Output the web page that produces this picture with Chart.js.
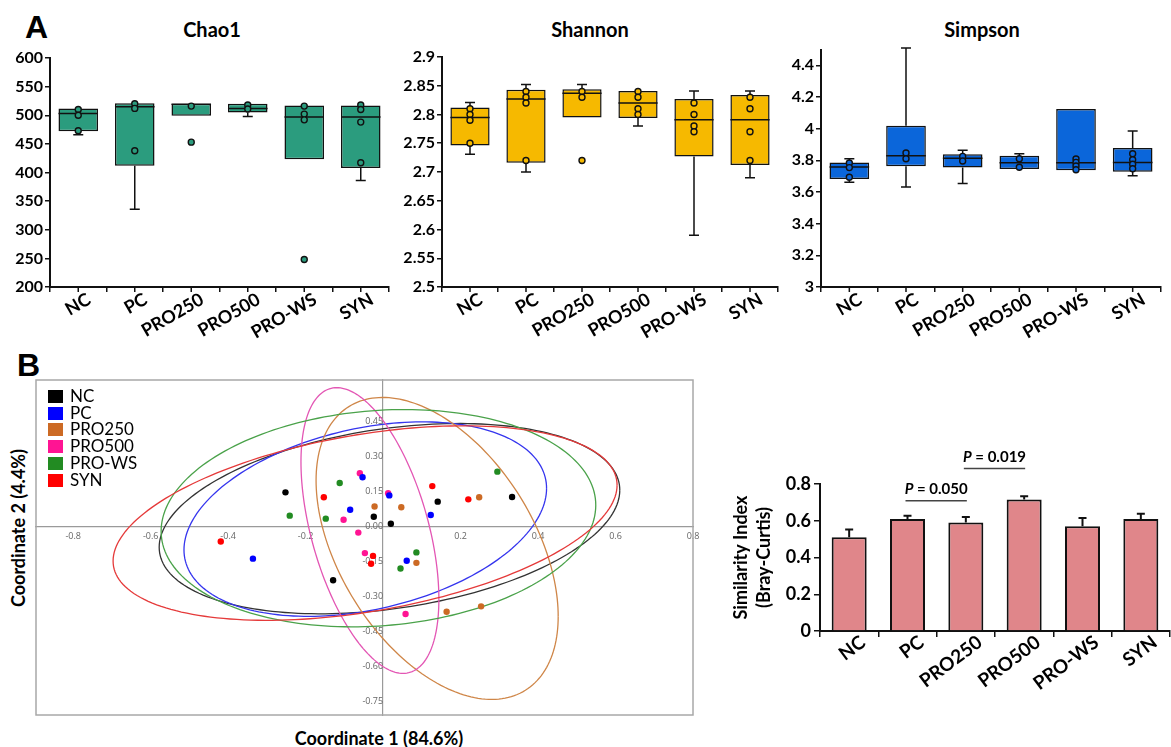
<!DOCTYPE html>
<html>
<head>
<meta charset="utf-8">
<title>Diversity</title>
<script src="https://cdn.jsdelivr.net/npm/chart.js@4.4.1/dist/chart.umd.min.js"></script>
<style>
	body { margin: 0; width: 1171px; height: 747px; overflow: hidden; position: relative; background: #fff; font-family: Lato, sans-serif; }
	canvas { position: absolute; }
	.txt { position: absolute; font-weight: bold; color: #000; white-space: nowrap; }
	.ttl { position: absolute; top: 29px; font: bold 20px Lato, sans-serif; color: #000; transform: translate(-50%, -50%); }
	.legend { position: absolute; left: 48px; top: 388px; font: 17px Lato, sans-serif; color: #000; line-height: 16.7px; }
	.legend span { display: inline-block; width: 15px; height: 13px; margin-right: 7px; vertical-align: -1px; }
</style>
</head>
<body>
<div class="txt" style="left:25px;top:9px;font:bold 32px 'Liberation Sans'">A</div>
<div class="txt" style="left:17px;top:347px;font:bold 32px 'Liberation Sans'">B</div>
<div class="ttl" style="left:212px">Chao1</div>
<div class="ttl" style="left:590px">Shannon</div>
<div class="ttl" style="left:982px">Simpson</div>
<canvas id="chao" width="400" height="360" style="left:0;top:0"></canvas>
<canvas id="shannon" width="396" height="360" style="left:392px;top:0"></canvas>
<canvas id="simpson" width="390" height="360" style="left:781px;top:0"></canvas>
<canvas id="pcoa" width="675" height="345" style="left:30px;top:375px"></canvas>
<canvas id="similar" width="451" height="290" style="left:720px;top:430px"></canvas>
<div class="legend" id="legend"></div>
<div class="txt" style="left:18px;top:528px;font-size:18px;transform:translate(-50%,-50%) rotate(-90deg)">Coordinate 2 (4.4%)</div>
<div class="txt" style="left:379px;top:738px;font-size:18px;transform:translate(-50%,-50%)">Coordinate 1 (84.6%)</div>
<script>
const groups = ["NC", "PC", "PRO250", "PRO500", "PRO-WS", "SYN"];

// Chao1 boxes
const chaoQ1 = [472, 412, 499, 505, 423, 408];
const chaoQ3 = [512, 521, 520, 520, 517, 517];
const chaoMed = [503, 515, 519, 512, 497, 497];
const chaoLow = [466, 336, null, 498, null, 386];
const chaoHigh = [null, null, null, null, null, null];
const chaoPts = [[510, 500, 473], [520, 512, 438], [516, 453], [518, 511], [516, 502, 492, 248], [518, 510, 488, 417]];

// Shannon boxes
const shanQ1 = [2.746, 2.716, 2.795, 2.794, 2.727, 2.712];
const shanQ3 = [2.812, 2.843, 2.844, 2.841, 2.827, 2.834];
const shanMed = [2.795, 2.827, 2.837, 2.82, 2.791, 2.791];
const shanLow = [2.731, 2.70, null, 2.78, 2.59, 2.69];
const shanHigh = [2.821, 2.852, 2.852, null, 2.841, 2.841];
const shanPts = [[2.81, 2.80, 2.79, 2.75], [2.84, 2.83, 2.82, 2.72], [2.84, 2.83, 2.72], [2.84, 2.83, 2.81, 2.80], [2.82, 2.80, 2.78, 2.77], [2.83, 2.81, 2.77, 2.72]];

// Simpson boxes
const simpQ1 = [3.682, 3.762, 3.754, 3.745, 3.737, 3.728];
const simpQ3 = [3.787, 4.019, 3.838, 3.829, 4.124, 3.878];
const simpMed = [3.758, 3.829, 3.813, 3.785, 3.785, 3.787];
const simpLow = [3.661, 3.632, 3.653, null, null, 3.703];
const simpHigh = [3.81, 4.51, 3.863, 3.842, null, 3.985];
const simpPts = [[3.783, 3.754, 3.693], [3.846, 3.81], [3.825, 3.796], [3.81, 3.756], [3.808, 3.787, 3.764, 3.741], [3.842, 3.804, 3.775, 3.747]];

// PCoA coordinates [x, y]
const ncPts = [[-0.252, 0.147], [-0.129, -0.231], [-0.024, 0.042], [0.020, 0.012], [0.141, 0.107], [0.333, 0.127]];
const pcPts = [[-0.053, 0.212], [-0.085, 0.072], [-0.336, -0.138], [0.016, 0.134], [0.123, 0.050], [0.061, -0.147]];
const pro250Pts = [[-0.022, 0.086], [0.047, 0.083], [0.248, 0.126], [0.086, -0.156], [0.164, -0.366], [0.253, -0.343]];
const pro500Pts = [[-0.060, 0.229], [-0.102, 0.029], [-0.064, -0.026], [-0.047, -0.114], [0.013, 0.143], [0.058, -0.376]];
const prowsPts = [[-0.112, 0.187], [-0.241, 0.047], [-0.148, 0.034], [0.295, 0.236], [0.086, -0.111], [0.045, -0.180]];
const synPts = [[-0.153, 0.126], [-0.419, -0.064], [-0.026, -0.126], [-0.031, -0.160], [0.127, 0.174], [0.220, 0.117]];

// confidence ellipses: x = cx + a*cos(t), y = cy + b*cos(t + acos(c))
const ellCx = [0.0165, -0.046, 0.1395, -0.034, -0.012, -0.0465];
const ellCy = [0.034, 0.032, -0.094, -0.017, 0.036, 0.015];
const ellA = [0.5945, 0.468, 0.3125, 0.178, 0.561, 0.6505];
const ellB = [0.409, 0.418, 0.649, 0.614, 0.467, 0.418];
const ellC = [0.30, 0.316, -0.45, -0.48, 0.12, 0.39];

// similarity index
const simMean = [0.51, 0.61, 0.59, 0.715, 0.57, 0.61];
const simErr = [0.043, 0.017, 0.03, 0.018, 0.045, 0.028];
const sigFrom = [1, 2];
const sigTo = [2, 3];
const sigY = [0.709, 0.884];
const sigText = [" = 0.050", " = 0.019"];

const dotColors = ["#000000", "#0000ff", "#cc6a24", "#ff1493", "#228b22", "#ff0000"];
const ellColors = ["#333333", "#3535ee", "#cf8648", "#e356b4", "#4aa24a", "#e53a3a"];

Chart.defaults.font.family = "Lato";
Chart.defaults.animation = false;
Chart.defaults.events = [];
Chart.defaults.plugins.legend.display = false;
Chart.defaults.plugins.tooltip.enabled = false;

const boldFont = (s) => ({ family: "Lato", size: s, weight: "bold" });
const shortNum = (v) => String(+Number(v).toFixed(3));

// slanted category names under the x axis
function labelPlugin(angle, dx, dy, size) {
	return {
		id: "slantLabels",
		afterDraw(chart) {
			let ctx = chart.ctx, x = chart.scales.x;
			ctx.save();
			ctx.font = "bold " + size + "px Lato";
			ctx.fillStyle = "#000";
			ctx.textAlign = "right";
			ctx.textBaseline = "middle";
			groups.forEach((g, i) => {
				ctx.save();
				ctx.translate(x.getPixelForValue(i) + dx, x.top + dy);
				ctx.rotate(-angle * Math.PI / 180);
				ctx.fillText(g, 0, 0);
				ctx.restore();
			});
			ctx.restore();
		}
	};
}

function boxPlugin(q1, q3, med, low, high) {
	return {
		id: "boxExtras",
		beforeDatasetDraw(chart, args) {
			if (args.index !== 0) return;
			let ctx = chart.ctx;
			let x = chart.scales.x, y = chart.scales.y;
			let bars = chart.getDatasetMeta(1).data;
			ctx.save();
			ctx.strokeStyle = "#111";
			ctx.lineWidth = 1.5;
			ctx.beginPath();
			for (let i = 0; i < groups.length; i++) {
				let cx = x.getPixelForValue(i);
				let hw = bars[i].width / 2;
				let ym = y.getPixelForValue(med[i]);
				ctx.moveTo(cx - hw, ym); ctx.lineTo(cx + hw, ym);
				if (low[i] != null) {
					let yl = y.getPixelForValue(low[i]);
					ctx.moveTo(cx, y.getPixelForValue(q1[i])); ctx.lineTo(cx, yl);
					ctx.moveTo(cx - 5, yl); ctx.lineTo(cx + 5, yl);
				}
				if (high[i] != null) {
					let yh = y.getPixelForValue(high[i]);
					ctx.moveTo(cx, y.getPixelForValue(q3[i])); ctx.lineTo(cx, yh);
					ctx.moveTo(cx - 5, yh); ctx.lineTo(cx + 5, yh);
				}
				// tick under each box
				ctx.moveTo(cx, x.top); ctx.lineTo(cx, x.top + 5);
			}
			ctx.stroke();
			ctx.restore();
		}
	};
}

function boxChart(id, color, q1, q3, med, low, high, pts, min, max, step, axisW, padTop, padRight) {
	let points = [];
	pts.forEach((arr, i) => arr.forEach(v => points.push({ x: groups[i], y: v })));
	return new Chart(document.getElementById(id), {
		type: "bar",
		data: {
			labels: groups,
			datasets: [{
				type: "line",
				data: points,
				showLine: false,
				pointRadius: 3,
				pointBackgroundColor: color,
				pointBorderColor: "#111",
				pointBorderWidth: 1.4
			}, {
				data: groups.map((g, i) => [q1[i], q3[i]]),
				backgroundColor: color,
				borderColor: "#111",
				borderWidth: 1.5,
				borderSkipped: false,
				barPercentage: 0.7,
				categoryPercentage: 1
			}]
		},
		options: {
			responsive: false,
			layout: { padding: { top: padTop, right: padRight } },
			scales: {
				x: {
					grid: { drawOnChartArea: false, offset: true, tickLength: 5, color: "#111", lineWidth: 1.5 },
					border: { color: "#111", width: 2 },
					ticks: { display: false },
					afterFit: (s) => { s.height = 73; }
				},
				y: {
					min: min, max: max,
					grid: { drawOnChartArea: false, tickLength: 5, color: "#111", lineWidth: 1.5 },
					border: { color: "#111", width: 2 },
					ticks: { stepSize: step, includeBounds: false, color: "#000", font: boldFont(16), padding: 2, callback: shortNum },
					afterFit: (s) => { s.width = axisW; }
				}
			}
		},
		plugins: [boxPlugin(q1, q3, med, low, high), labelPlugin(30, 11, 11, 18)]
	});
}

boxChart("chao", "#2b9c7e", chaoQ1, chaoQ3, chaoMed, chaoLow, chaoHigh, chaoPts, 200, 600, 50, 50, 58, 11);
boxChart("shannon", "#f6b900", shanQ1, shanQ3, shanMed, shanLow, shanHigh, shanPts, 2.5, 2.9, 0.05, 50, 57, 10);
boxChart("simpson", "#0b66da", simpQ1, simpQ3, simpMed, simpLow, simpHigh, simpPts, 3, 4.5, 0.2, 40, 49.5, 10);

// PCoA
let pcoaSets = [ncPts, pcPts, pro250Pts, pro500Pts, prowsPts, synPts];
let zeroPad = (s) => { s.paddingLeft = 0; s.paddingRight = 0; s.paddingTop = 0; s.paddingBottom = 0; };

let ellipsePlugin = {
	id: "ellipses",
	beforeDatasetsDraw(chart) {
		let ctx = chart.ctx, area = chart.chartArea;
		let x = chart.scales.x, y = chart.scales.y;
		ctx.save();
		ctx.beginPath();
		ctx.rect(area.left, area.top, area.right - area.left, area.bottom - area.top);
		ctx.clip();
		ctx.lineWidth = 1.3;
		for (let i = 0; i < groups.length; i++) {
			let ph = Math.acos(ellC[i]);
			ctx.strokeStyle = ellColors[i];
			ctx.beginPath();
			for (let k = 0; k <= 200; k++) {
				let t = k / 200 * Math.PI * 2;
				let px = x.getPixelForValue(ellCx[i] + ellA[i] * Math.cos(t));
				let py = y.getPixelForValue(ellCy[i] + ellB[i] * Math.cos(t + ph));
				if (k == 0) ctx.moveTo(px, py); else ctx.lineTo(px, py);
			}
			ctx.stroke();
		}
		ctx.restore();
	},
	afterDraw(chart) {
		let ctx = chart.ctx, area = chart.chartArea;
		ctx.save();
		ctx.strokeStyle = "#a8a8a8";
		ctx.lineWidth = 1.5;
		ctx.strokeRect(area.left, area.top, area.right - area.left, area.bottom - area.top);
		ctx.restore();
	}
};

new Chart(document.getElementById("pcoa"), {
	type: "scatter",
	data: {
		datasets: groups.map((g, i) => ({
			label: g,
			data: pcoaSets[i].map(p => ({ x: p[0], y: p[1] })),
			backgroundColor: dotColors[i],
			borderWidth: 0,
			pointRadius: 3.2
		}))
	},
	options: {
		responsive: false,
		layout: { padding: { left: 6, top: 5, right: 12, bottom: 5 } },
		scales: {
			x: {
				type: "linear", min: -0.896, max: 0.8, position: { y: 0 },
				grid: { display: false, drawTicks: false },
				border: { color: "#9a9a9a", width: 1.2 },
				ticks: { stepSize: 0.2, includeBounds: false, autoSkip: false, maxRotation: 0, padding: 4, color: "#666", font: { family: "Open Sans", size: 9 },
					callback: (v) => Math.abs(v) < 1e-9 ? "" : Number(v).toFixed(1) },
				afterFit: zeroPad
			},
			y: {
				type: "linear", min: -0.81, max: 0.63, position: { x: 0 },
				grid: { display: false, drawTicks: false },
				border: { color: "#9a9a9a", width: 1.2 },
				ticks: { stepSize: 0.15, includeBounds: false, autoSkip: false, padding: 3, color: "#666", font: { family: "Open Sans", size: 9 },
					callback: (v) => v > 0.5 ? "" : Number(v).toFixed(2) },
				afterFit: zeroPad
			}
		}
	},
	plugins: [ellipsePlugin]
});

// legend of the PCoA
let legend = document.getElementById("legend");
groups.forEach((g, i) => {
	legend.innerHTML += `<div><span style="background:${dotColors[i]}"></span>${g}</div>`;
});

// similarity bars
let errorPlugin = {
	id: "errorBars",
	afterDatasetsDraw(chart) {
		let ctx = chart.ctx;
		let x = chart.scales.x, y = chart.scales.y;
		ctx.save();
		ctx.strokeStyle = "#111";
		ctx.lineWidth = 2;
		ctx.beginPath();
		simMean.forEach((m, i) => {
			let cx = x.getPixelForValue(i);
			let y1 = y.getPixelForValue(m + simErr[i]);
			ctx.moveTo(cx, y.getPixelForValue(m)); ctx.lineTo(cx, y1);
			ctx.moveTo(cx - 4, y1); ctx.lineTo(cx + 4, y1);
		});
		ctx.stroke();
		// significance lines
		for (let k = 0; k < sigY.length; k++) {
			let x0 = x.getPixelForValue(sigFrom[k]) - 2;
			let x1 = x.getPixelForValue(sigTo[k]) + 1;
			let yy = y.getPixelForValue(sigY[k]);
			ctx.strokeStyle = "#444";
			ctx.lineWidth = 1.5;
			ctx.beginPath(); ctx.moveTo(x0, yy); ctx.lineTo(x1, yy); ctx.stroke();
			ctx.fillStyle = "#000";
			ctx.textBaseline = "alphabetic";
			ctx.textAlign = "left";
			ctx.font = "italic bold 15px Lato";
			let wP = ctx.measureText("P").width;
			ctx.font = "bold 15px Lato";
			let wR = ctx.measureText(sigText[k]).width;
			let sx = (x0 + x1) / 2 - (wP + wR) / 2;
			ctx.font = "italic bold 15px Lato";
			ctx.fillText("P", sx, yy - 7);
			ctx.font = "bold 15px Lato";
			ctx.fillText(sigText[k], sx + wP, yy - 7);
		}
		ctx.restore();
	}
};

new Chart(document.getElementById("similar"), {
	type: "bar",
	data: {
		labels: groups,
		datasets: [{
			data: simMean,
			backgroundColor: "#e0868a",
			borderColor: "#111",
			borderWidth: 2,
			barPercentage: 0.6,
			categoryPercentage: 1
		}]
	},
	options: {
		responsive: false,
		layout: { padding: { top: 54, right: 1 } },
		scales: {
			x: {
				grid: { drawOnChartArea: false, tickLength: 6, color: "#111", lineWidth: 1.5 },
				border: { color: "#111", width: 2 },
				ticks: { display: false },
				afterFit: (s) => { s.height = 89; }
			},
			y: {
				min: 0, max: 0.8,
				grid: { drawOnChartArea: false, tickLength: 6, color: "#111", lineWidth: 1.5 },
				border: { color: "#111", width: 2 },
				ticks: { stepSize: 0.2, color: "#000", font: boldFont(18), padding: 3, callback: shortNum },
				title: { display: true, text: ["Similarity Index", "(Bray-Curtis)"], color: "#000",
					font: { family: "Lato", size: 18, weight: "bold", lineHeight: 1.3 }, padding: { top: 9, bottom: 0 } },
				afterFit: (s) => { s.width = 100; }
			}
		}
	},
	plugins: [errorPlugin, labelPlugin(37, 14, 9, 19)]
});
</script>
</body>
</html>
